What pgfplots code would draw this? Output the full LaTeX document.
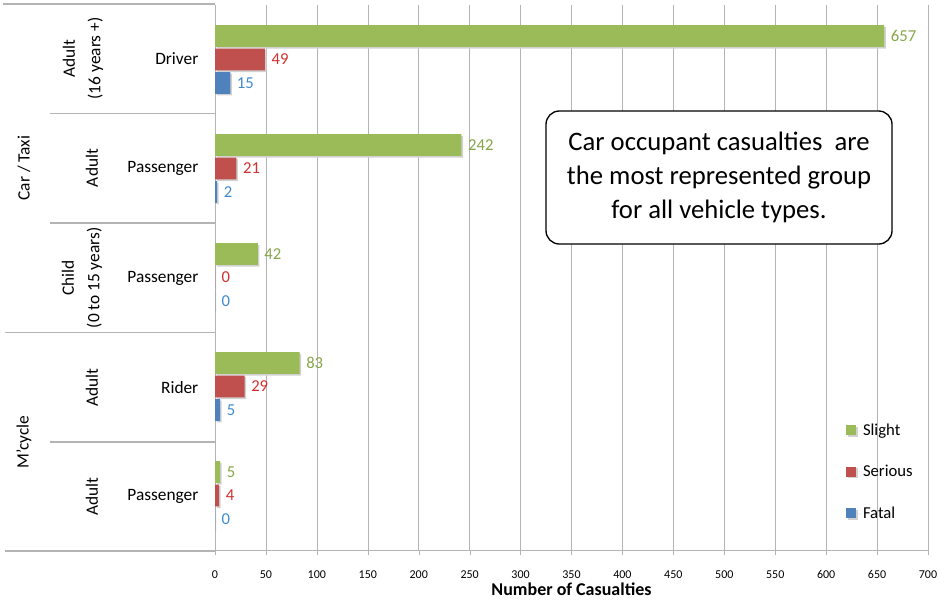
\documentclass[border=0pt]{standalone}
\usepackage{fontspec}
\setmainfont{Carlito}
\usepackage{pgfplots}
\pgfplotsset{compat=1.18}
\definecolor{cgreen}{HTML}{9BBB59}
\definecolor{cred}{HTML}{C0504D}
\definecolor{cblue}{HTML}{4F81BD}
\definecolor{lgreen}{HTML}{86A64A}
\definecolor{lred}{HTML}{D0302E}
\definecolor{lblue}{HTML}{3F8AD0}
\definecolor{sep}{HTML}{B4B4B4}
\pgfplotsset{
  mybar/.style={xbar, bar shift=0pt, bar width=0.2, draw=none, fill=#1,
    preaction={fill=black!18, transform canvas={xshift=1.2pt,yshift=-1.2pt}},
    legend image code/.code={\path (0pt,0pt) -- (10.5pt,0pt);\fill[fill=#1,draw=none] (0pt,-3.75pt) rectangle (7.5pt,3.75pt);}},
}
\begin{document}
\begin{tikzpicture}
\path[use as bounding box] (0pt,0pt) rectangle (708pt,-450pt);
\begin{axis}[
  at={(161.25pt,-412.5pt)}, anchor=south west,
  scale only axis, width=534.75pt, height=408.75pt,
  xmin=0, xmax=700, ymin=0, ymax=5,
  xtick={0,50,...,700}, ytick=\empty,
  axis lines=left, axis line style={-, draw=sep},
  xmajorgrids, grid style={draw=sep},
  tick style={draw=sep}, tick align=outside, major tick length=4pt,
  /pgf/number format/assume math mode=true,
  xticklabel style={font=\fontsize{9}{10}\selectfont, yshift=-8pt},
  xlabel={\bfseries Number of Casualties},
  xlabel style={font=\fontsize{13.5}{15}\selectfont, yshift=4pt},
  clip=false,
  legend style={at={(axis description cs:0.8795,0.2425)}, anchor=north west,
    draw=none, fill=none, font=\fontsize{12.5}{14}\selectfont, row sep=17pt},
  legend cell align=left,
  nodes near coords, point meta=x,
  nodes near coords style={font=\fontsize{12.5}{14}\selectfont, anchor=west, xshift=1.5pt},
]
\addplot[mybar=cgreen, every node near coord/.append style={text=lgreen}] coordinates {
  (657,4.715) (242,3.715) (42,2.715) (83,1.715) (5,0.715)};
\addlegendentry{Slight}
\addplot[mybar=cred, every node near coord/.append style={text=lred}] coordinates {
  (49,4.5) (21,3.5) (0,2.5) (29,1.5) (4,0.5)};
\addlegendentry{Serious}
\addplot[mybar=cblue, every node near coord/.append style={text=lblue}] coordinates {
  (15,4.285) (2,3.285) (0,2.285) (5,1.285) (0,0.285)};
\addlegendentry{Fatal}
\end{axis}
\begin{scope}[x=0.75pt,y=-0.75pt]
% category separators
\draw[sep, line width=0.8pt] (3,4) -- (215,4);
\draw[sep, line width=0.8pt] (50,113.5) -- (215,113.5);
\draw[sep, line width=0.8pt] (50,223) -- (215,223);
\draw[sep, line width=0.8pt] (5,332.5) -- (215,332.5);
\draw[sep, line width=0.8pt] (50,442) -- (215,442);
\draw[sep, line width=0.8pt] (5,551) -- (215,551);
% level 1
\node[rotate=90, font=\fontsize{13}{19}\selectfont] at (24,168) {Car / Taxi};
\node[rotate=90, font=\fontsize{13}{19}\selectfont] at (24,442) {M'cycle};
% level 2
\node[rotate=90, align=center, font=\fontsize{13}{19}\selectfont] at (83,58.5) {Adult\\(16 years +)};
\node[rotate=90, font=\fontsize{13}{19}\selectfont] at (92,168) {Adult};
\node[rotate=90, align=center, font=\fontsize{13}{19}\selectfont] at (82,278) {Child\\(0 to 15 years)};
\node[rotate=90, font=\fontsize{13}{19}\selectfont] at (92,387.5) {Adult};
\node[rotate=90, font=\fontsize{13}{19}\selectfont] at (92,496.5) {Adult};
% level 3
\node[anchor=east, font=\fontsize{13}{15}\selectfont] at (203,58.5) {Driver};
\node[anchor=east, font=\fontsize{13}{15}\selectfont] at (203,168) {Passenger};
\node[anchor=east, font=\fontsize{13}{15}\selectfont] at (203,278) {Passenger};
\node[anchor=east, font=\fontsize{13}{15}\selectfont] at (203,387.5) {Rider};
\node[anchor=east, font=\fontsize{13}{15}\selectfont] at (203,496.5) {Passenger};
% annotation
\draw[black, line width=1pt, rounded corners=10pt, fill=white] (546,111) rectangle (892,244);
\node[align=center, font=\fontsize{20}{25.5}\selectfont] at (719,177.5)
  {Car occupant casualties~ are\\the most represented group\\for all vehicle types.};
\end{scope}
\end{tikzpicture}
\end{document}
